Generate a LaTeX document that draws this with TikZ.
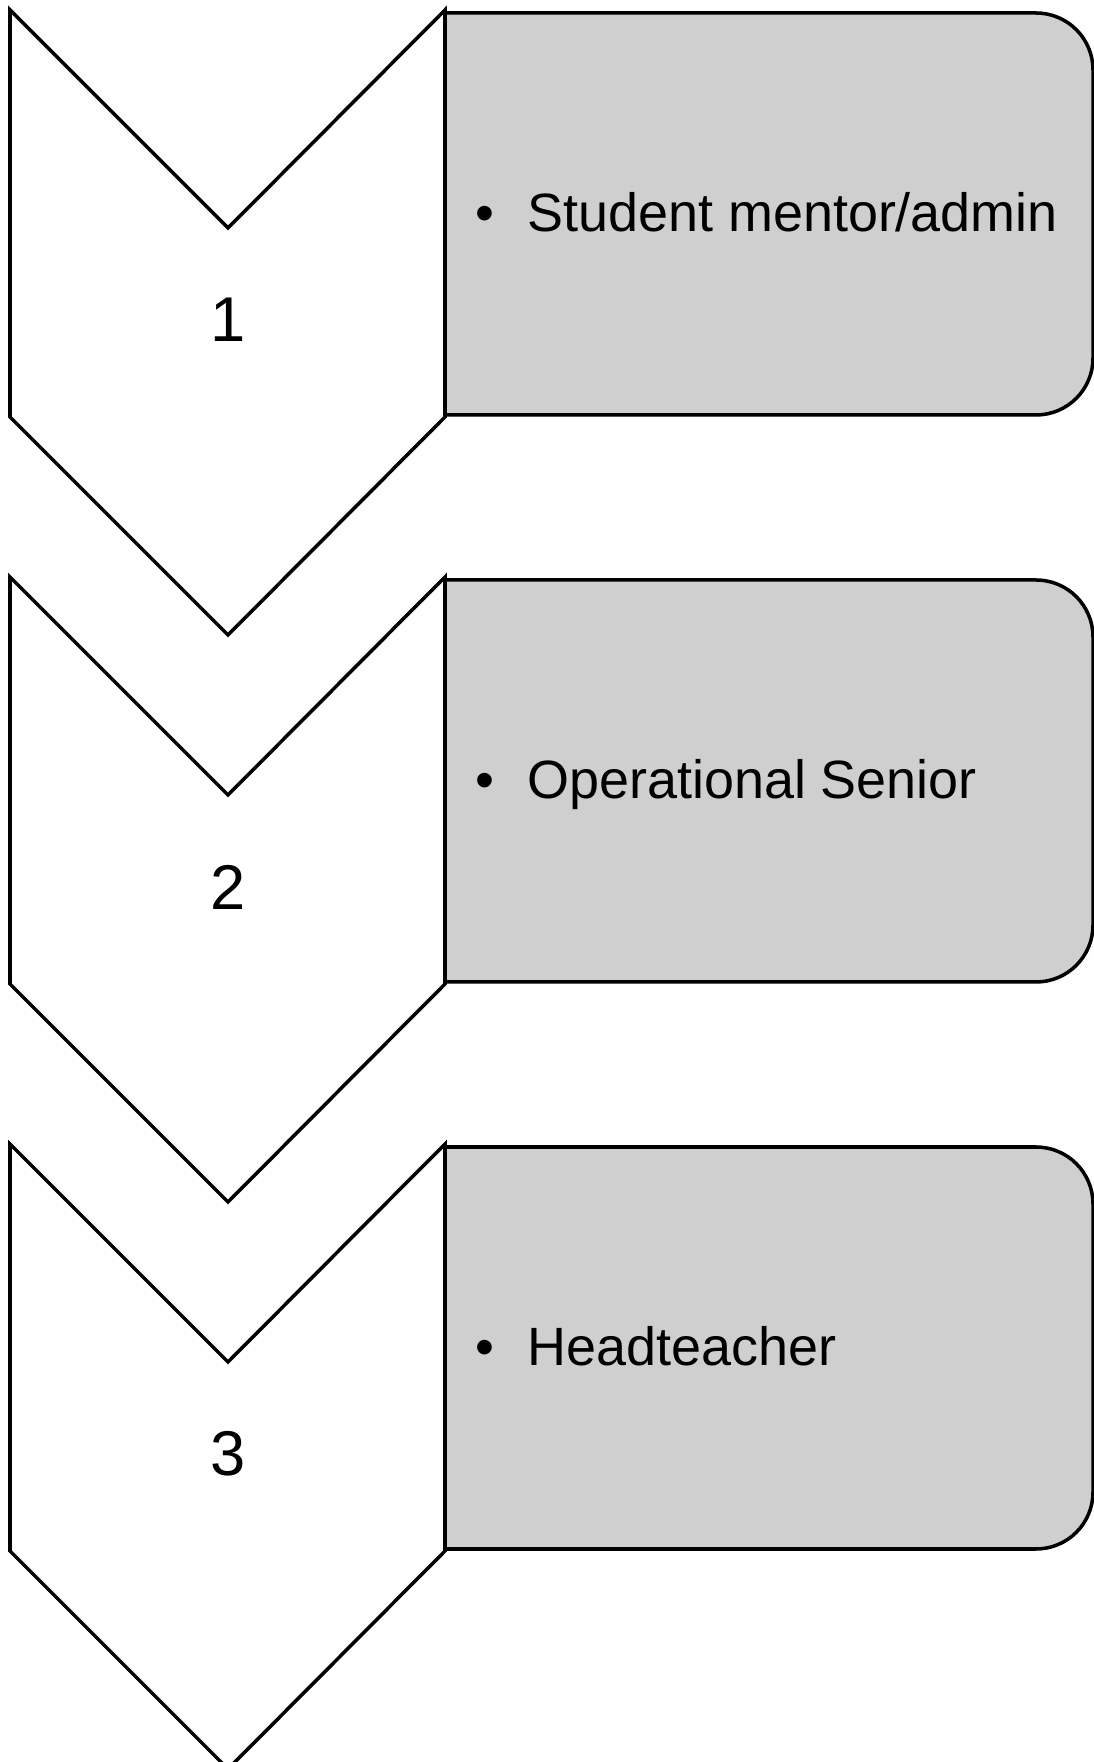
\documentclass[tikz,border=0pt]{standalone}
\usepackage{fontspec}
\setmainfont{Liberation Sans}
\definecolor{boxgray}{RGB}{207,207,207}

\begin{document}
\begin{tikzpicture}[x=0.02cm, y=0.02cm,
    chevron/.style={draw=black, line width=2pt, fill=white},
    stepbox/.style={draw=black, line width=2pt, fill=boxgray},
    numlabel/.style={inner sep=0pt, font=\fontsize{36}{40}\selectfont},
    itemlabel/.style={inner sep=0pt, anchor=base west, font=\fontsize{30.7}{36}\selectfont}]
    \useasboundingbox (0,0) rectangle (1094,1762);

    % Grey boxes (right corners rounded)
    \draw[stepbox] (445,1749) -- (1036,1749) arc[start angle=90, end angle=0, radius=57] -- (1093,1404) arc[start angle=0, end angle=-90, radius=57] -- (445,1347) -- cycle;
    \draw[stepbox] (445,1182) -- (1036,1182) arc[start angle=90, end angle=0, radius=57] -- (1093,837) arc[start angle=0, end angle=-90, radius=57] -- (445,780) -- cycle;
    \draw[stepbox] (445,615) -- (1036,615) arc[start angle=90, end angle=0, radius=57] -- (1093,270) arc[start angle=0, end angle=-90, radius=57] -- (445,213) -- cycle;

    % Chevrons
    \draw[chevron] (10,1752) -- (228,1534) -- (445,1752) -- (445,1345) -- (228,1127) -- (10,1345) -- cycle;
    \draw[chevron] (10,1185) -- (228,967) -- (445,1185) -- (445,778) -- (228,560) -- (10,778) -- cycle;
    \draw[chevron] (10,618) -- (228,400) -- (445,618) -- (445,211) -- (228,-7) -- (10,211) -- cycle;

    % Step numbers
    \node[numlabel] (num1) at (228,1442) {1};
    \node[numlabel] (num2) at (228,875) {2};
    \node[numlabel] (num3) at (228,308) {3};

    % Items
    \node[itemlabel] (item1) at (475,1530) {•\hspace{0.66cm}Student mentor/admin};
    \node[itemlabel] (item2) at (475,963) {•\hspace{0.66cm}Operational Senior};
    \node[itemlabel] (item3) at (475,396) {•\hspace{0.66cm}Headteacher};
  \end{tikzpicture}
\end{document}
